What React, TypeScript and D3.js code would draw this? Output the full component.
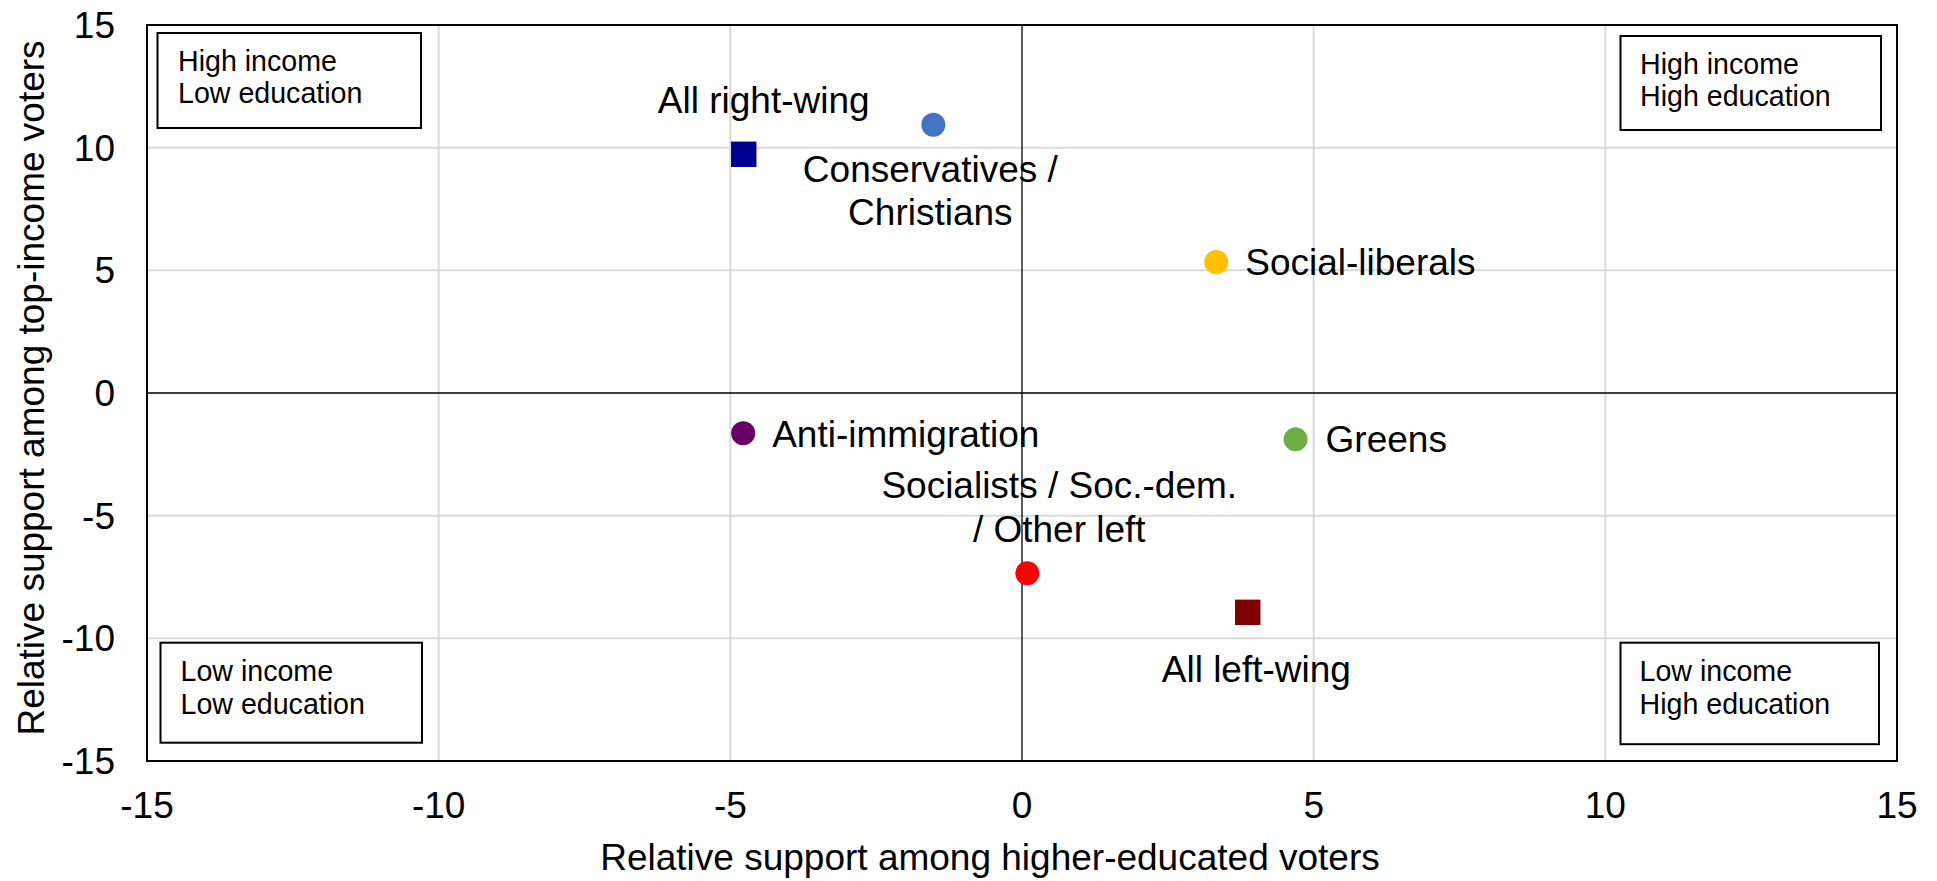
import React from "react";
import * as d3 from "d3";

const parties = [
  "All right-wing",
  "Conservatives / Christians",
  "Social-liberals",
  "Anti-immigration",
  "Greens",
  "Socialists / Soc.-dem. / Other left",
  "All left-wing",
];
const eduValues = [-4.77, -1.52, 3.33, -4.78, 4.69, 0.09, 3.87];
const incomeValues = [9.73, 10.93, 5.34, -1.64, -1.89, -7.35, -8.94];
const markerShapes = ["square", "circle", "circle", "circle", "circle", "circle", "square"];
const colors = ["#000090", "#4472C4", "#FFC000", "#660066", "#70AD47", "#FF0000", "#800000"];
const xTicks = [-15, -10, -5, 0, 5, 10, 15];
const yTicks = [-15, -10, -5, 0, 5, 10, 15];
const quadrantTexts = [
  ["High income", "Low education"],
  ["High income", "High education"],
  ["Low income", "Low education"],
  ["Low income", "High education"],
];
const xTitle = "Relative support among higher-educated voters";
const yTitle = "Relative support among top-income voters";

// label layout (style): lines, anchor, dx, baseline dys
const labelLayout = [
  { lines: ["All right-wing"], anchor: "middle", dx: 20, dys: [-41.6] },
  { lines: ["Conservatives /", "Christians"], anchor: "middle", dx: -3, dys: [56.7, 100] },
  { lines: ["Social-liberals"], anchor: "start", dx: 29, dys: [13.4] },
  { lines: ["Anti-immigration"], anchor: "start", dx: 29, dys: [13.4] },
  { lines: ["Greens"], anchor: "start", dx: 30, dys: [12.4] },
  { lines: ["Socialists / Soc.-dem.", "/ Other left"], anchor: "middle", dx: 32, dys: [-75, -31.6] },
  { lines: ["All left-wing"], anchor: "middle", dx: 8.6, dys: [69.4] },
];

const W = 1937;
const H = 881;
const L = 147, R = 1897, T = 25, B = 761;
const FONT = "'Liberation Sans', Arial, Helvetica, sans-serif";

export default function App() {
  const x = d3.scaleLinear().domain([-15, 15]).range([L, R]);
  const y = d3.scaleLinear().domain([-15, 15]).range([B, T]);

  const boxes = [
    { x0: L + 10.5, y0: T + 8, w: 263.5, h: 95, tx: 20.5 },
    { x0: R - 276.5, y0: T + 11, w: 260.5, h: 94, tx: 19.5 },
    { x0: L + 13.5, y0: B - 118.3, w: 261.5, h: 100, tx: 20 },
    { x0: R - 276.5, y0: B - 118.3, w: 258.5, h: 101.5, tx: 19 },
  ];

  return (
    <svg
      width={W}
      height={H}
      style={{ position: "absolute", left: 0, top: 0, display: "block", background: "#fff" }}
      fontFamily={FONT}
    >
      {/* gridlines */}
      {xTicks.filter((t) => t !== 0 && t !== -15 && t !== 15).map((t) => (
        <line key={"gx" + t} x1={x(t)} x2={x(t)} y1={T} y2={B} stroke="#d9d9d9" strokeWidth={2} />
      ))}
      {yTicks.filter((t) => t !== 0 && t !== -15 && t !== 15).map((t) => (
        <line key={"gy" + t} y1={y(t)} y2={y(t)} x1={L} x2={R} stroke="#d9d9d9" strokeWidth={2} />
      ))}
      {/* zero lines */}
      <line x1={x(0)} x2={x(0)} y1={T} y2={B} stroke="#000" strokeWidth={1.3} />
      <line x1={L} x2={R} y1={y(0)} y2={y(0)} stroke="#000" strokeWidth={1.3} />
      {/* border */}
      <rect x={L} y={T} width={R - L} height={B - T} fill="none" stroke="#000" strokeWidth={2} />

      {/* quadrant boxes */}
      {boxes.map((b, i) => (
        <g key={"box" + i}>
          <rect x={b.x0} y={b.y0} width={b.w} height={b.h} fill="#fff" stroke="#000" strokeWidth={2} />
          {quadrantTexts[i].map((s, j) => (
            <text key={j} x={b.x0 + b.tx} y={b.y0 + (i < 2 ? 37.5 : 38.3) + j * 32.8} fontSize={28.6} fill="#000">
              {s}
            </text>
          ))}
        </g>
      ))}

      {/* tick labels */}
      {xTicks.map((t) => (
        <text key={"xt" + t} x={x(t)} y={818} textAnchor="middle" fontSize={37} fill="#000">
          {t}
        </text>
      ))}
      {yTicks.map((t) => (
        <text key={"yt" + t} x={115} y={y(t)} dy="0.35em" textAnchor="end" fontSize={37} fill="#000">
          {t}
        </text>
      ))}

      {/* axis titles */}
      <text x={990} y={870} textAnchor="middle" fontSize={37} fill="#000">
        {xTitle}
      </text>
      <text
        transform={`translate(44, ${(T + B) / 2 - 5}) rotate(-90)`}
        textAnchor="middle"
        fontSize={37}
        fill="#000"
      >
        {yTitle}
      </text>

      {/* points */}
      {parties.map((p, i) => {
        const cx = x(eduValues[i]);
        const cy = y(incomeValues[i]);
        return markerShapes[i] === "square" ? (
          <rect key={"pt" + i} x={cx - 12.7} y={cy - 12.7} width={25.4} height={25.4} fill={colors[i]} />
        ) : (
          <circle key={"pt" + i} cx={cx} cy={cy} r={12} fill={colors[i]} />
        );
      })}

      {/* labels */}
      {parties.map((p, i) => {
        const cx = x(eduValues[i]);
        const cy = y(incomeValues[i]);
        const lay = labelLayout[i];
        return lay.lines.map((ln, j) => (
          <text
            key={"lb" + i + "-" + j}
            x={cx + lay.dx}
            y={cy + lay.dys[j]}
            textAnchor={lay.anchor}
            fontSize={37}
            fill="#000"
          >
            {ln}
          </text>
        ));
      })}
    </svg>
  );
}
